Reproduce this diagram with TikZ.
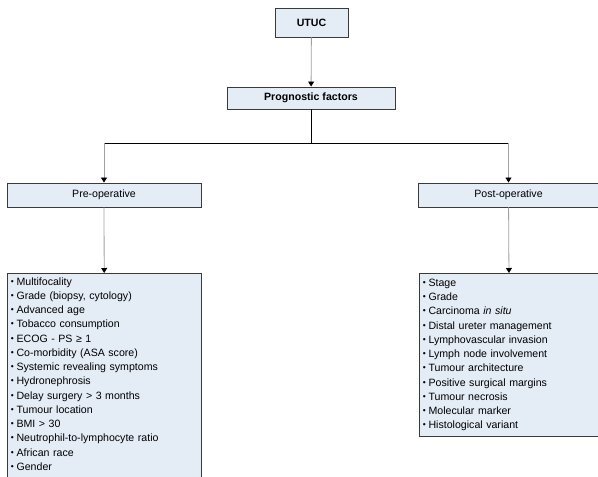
\documentclass[tikz,border=0pt]{standalone}
\usepackage{fontspec}
\setmainfont{Liberation Sans}
\usepackage{tikz}
\usetikzlibrary{arrows.meta}

\definecolor{boxfill}{HTML}{E4ECF6}
\definecolor{boxline}{HTML}{3A3A3A}
\definecolor{linkgray}{HTML}{A0A0A0}
\newcommand\fbul{{\fontsize{8.5}{8.5}\selectfont\raisebox{0.2ex}{•}}\hspace{0.25em}}

\begin{document}
\begin{tikzpicture}[x=1pt, y=-1pt,
    factorbox/.style={draw=boxline, fill=boxfill, line width=0.9pt, inner sep=0pt, font=\fontsize{10.6}{12}\selectfont},
    listbox/.style={draw=boxline, fill=boxfill, line width=0.9pt, anchor=north west, inner xsep=3.5pt, inner ysep=4pt, align=left, font=\fontsize{10.6}{14.25}\selectfont},
    link/.style={draw=linkgray, line width=0.8pt, -{Triangle[width=6pt, length=5pt, color=black]}},
    trunk/.style={draw=black, line width=0.9pt}]
    \useasboundingbox (0,0) rectangle (598,477);
    % boxes
    \node[factorbox, minimum width=73pt, minimum height=29pt, font=\fontsize{10.6}{12}\selectfont\bfseries] (utuc) at (311.5,22.5) {UTUC};
    \node[factorbox, minimum width=168pt, minimum height=22pt, font=\fontsize{10.6}{12}\selectfont\bfseries] (prog) at (311,98) {Prognostic factors};
    \node[factorbox, minimum width=194pt, minimum height=24pt] (pre) at (104,195) {Pre-operative};
    \node[factorbox, minimum width=180pt, minimum height=24pt] (post) at (508.5,195) {Post-operative};
    \node[listbox, text width=187pt] (prelist) at (7,273) {%
        \fbul Multifocality\\
        \fbul Grade (biopsy, cytology)\\
        \fbul Advanced age\\
        \fbul Tobacco consumption\\
        \fbul ECOG - PS ≥ 1\\
        \fbul Co-morbidity (ASA score)\\
        \fbul Systemic revealing symptoms\\
        \fbul Hydronephrosis\\
        \fbul Delay surgery > 3 months\\
        \fbul Tumour location\\
        \fbul BMI > 30\\
        \fbul Neutrophil-to-lymphocyte ratio\\
        \fbul African race\\
        \fbul Gender\\
        \mbox{}};
    \node[listbox, text width=173pt, inner ysep=5.5pt] (postlist) at (419,273) {%
        \fbul Stage\\
        \fbul Grade\\
        \fbul Carcinoma \textit{in situ}\\
        \fbul Distal ureter management\\
        \fbul Lymphovascular invasion\\
        \fbul Lymph node involvement\\
        \fbul Tumour architecture\\
        \fbul Positive surgical margins\\
        \fbul Tumour necrosis\\
        \fbul Molecular marker\\
        \fbul Histological variant};
    % connectors
    \coordinate (split) at (prog.south |- 0,143);
    \coordinate (lt) at (pre.north |- split);
    \coordinate (rt) at (post.north |- split);
    \draw[link] (utuc) -- (prog);
    \draw[trunk] (prog.south) -- (split);
    \draw[trunk] (lt) -- (rt);
    \draw[link] (lt) -- (pre);
    \draw[link] (rt) -- (post);
    \draw[link] (pre) -- (prelist);
    \draw[link] (post) -- (postlist);
\end{tikzpicture}
\end{document}
